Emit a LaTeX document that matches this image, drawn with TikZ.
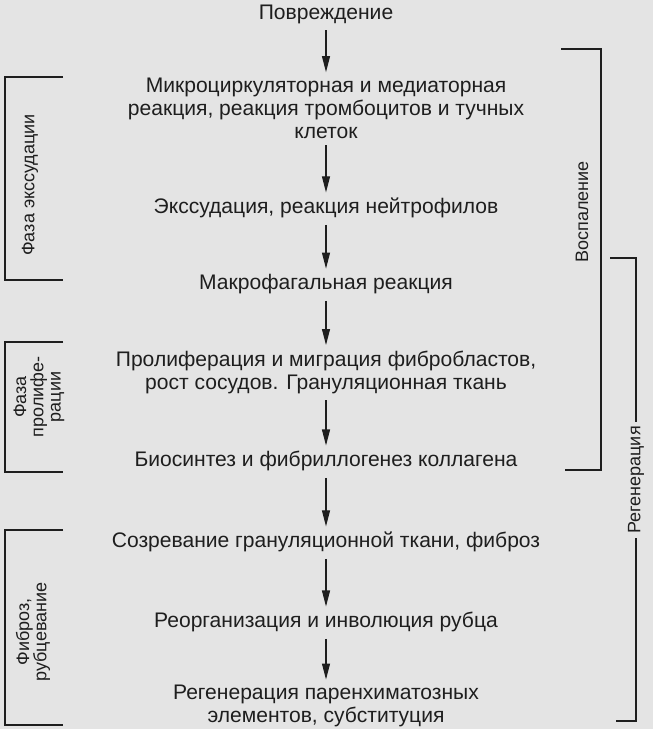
\documentclass[tikz,border=0pt]{standalone}
\usepackage{fontspec}
\setmainfont{Liberation Sans}
\usetikzlibrary{arrows.meta}
\definecolor{bg}{HTML}{E4E4E4}
\definecolor{ink}{HTML}{1E1E1E}
\begin{document}
\begin{tikzpicture}[x=0.75pt,y=-0.75pt,
  stage/.style={align=center,font=\fontsize{15.8}{17.2}\selectfont,text=ink,inner sep=2pt},
  flow/.style={draw=ink,line width=0.8pt,-{Triangle[length=12pt,width=6pt]}},
  brk/.style={draw=ink,line width=0.8pt},
  side/.style={rotate=90,align=center,font=\fontsize{13.5}{13}\selectfont,text=ink,inner sep=1pt}]
\fill[bg] (0,0) rectangle (653,729);
\useasboundingbox (0,0) rectangle (653,729);
\node[stage] (n0) at (326,14) {Повреждение};
\node[stage] (n1) at (326,108) {Микроциркуляторная и медиаторная\\реакция, реакция тромбоцитов и тучных\\клеток};
\node[stage] (n2) at (326,208) {Экссудация, реакция нейтрофилов};
\node[stage] (n3) at (326,284) {Макрофагальная реакция};
\node[stage] (n4) at (326,372) {Пролиферация и миграция фибробластов,\\рост сосудов. Грануляционная ткань};
\node[stage] (n5) at (326,461) {Биосинтез и фибриллогенез коллагена};
\node[stage] (n6) at (326,542) {Созревание грануляционной ткани, фиброз};
\node[stage] (n7) at (326,622) {Реорганизация и инволюция рубца};
\node[stage] (n8) at (326,706) {Регенерация паренхиматозных\\элементов, субституция};
\foreach \a/\b in {n0/n1,n1/n2,n2/n3,n3/n4,n4/n5,n5/n6,n6/n7,n7/n8}
  \draw[flow] ([yshift=-3pt]\a.south) -- ([yshift=2pt]\b.north);
% left brackets
\draw[brk] (63,77) -- (5,77) -- (5,280) -- (63,280);
\node[side] (l1) at (30,185) {Фаза экссудации};
\draw[brk] (63,342) -- (5,342) -- (5,472) -- (63,472);
\node[side] (l2) at (39,397) {Фаза\\пролифе-\\рации};
\draw[brk] (63,530) -- (5,530) -- (5,725) -- (63,725);
\node[side] (l3) at (33,632) {Фиброз,\\рубцевание};
% right brackets
\draw[brk] (561,49) -- (601,49) -- (601,470) -- (565,470);
\node[side] (r1) at (582,212) {Воспаление};
\draw[brk] (610,258) -- (636,258) -- (636,721) -- (616,721);
\node[side,fill=bg,inner sep=3pt] (r2) at (636,480) {Регенерация};
\end{tikzpicture}
\end{document}
